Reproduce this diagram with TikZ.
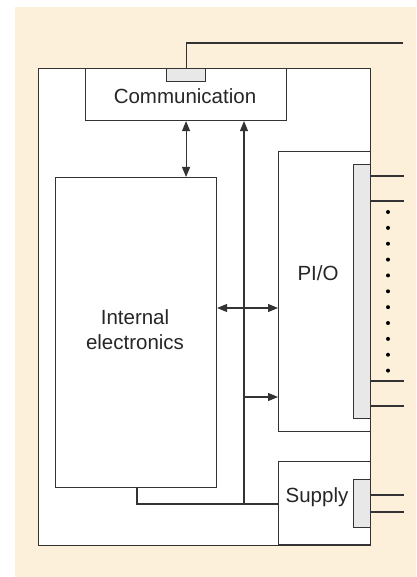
\documentclass[tikz,border=0pt]{standalone}
\usepackage{fontspec}
\setmainfont{Liberation Sans}
\usetikzlibrary{arrows.meta,positioning}

\definecolor{cream}{HTML}{FDF0DB}
\definecolor{tabgray}{HTML}{E8E8E8}
\definecolor{linegray}{HTML}{333333}

\begin{document}
\begin{tikzpicture}[
    x=1pt, y=-1pt,
    block/.style={
      draw=linegray,
      fill=white,
      line width=1.1pt,
      anchor=north west,
      inner sep=0pt
    },
    tab/.style={block, fill=tabgray},
    label/.style={font=\fontsize{20.5}{25}\selectfont, text=black!85, align=center, inner sep=0pt},
    wire/.style={draw=linegray, line width=1.1pt},
    arrow/.style={wire, -{Triangle[length=10pt,width=8pt]}},
    biarrow/.style={wire, {Triangle[length=10pt,width=8pt]}-{Triangle[length=10pt,width=8pt]}}
  ]
    \useasboundingbox (0,0) rectangle (416,577);
    \fill[cream] (15,7) rectangle (416,577);

    % housing and blocks
    \node[block, minimum width=332pt, minimum height=477pt] (device) at (38,68) {};
    \node[block, minimum width=201pt, minimum height=52pt] (comm) at (85,68) {};
    \node[label] (commlabel) at (185,96) {Communication};
    \node[tab, minimum width=39pt, minimum height=13pt] (commtab) at (166,68) {};
    \node[block, minimum width=161pt, minimum height=310pt] (ie) at (55,177) {};
    \node[label] (ielabel) at (135,330) {Internal\\electronics};
    \node[block, minimum width=92pt, minimum height=280pt] (pio) at (278,151) {};
    \node[label] (piolabel) at (318,273) {PI/O};
    \node[tab, minimum width=17pt, minimum height=254pt] (piostrip) at (353,164) {};
    \node[block, minimum width=92pt, minimum height=83pt] (supply) at (278,461) {};
    \node[label] (supplylabel) at (317,497) {Supply};
    \node[tab, minimum width=17pt, minimum height=48pt] (supplytab) at (353,479) {};

    % outside lines
    \coordinate (busout) at (403,43);
    \draw[wire] (commtab.north) |- (busout);
    \foreach \y in {176,201,381,406}
      \draw[wire] (piostrip.east |- 0,\y) -- ++(33,0);
    \foreach \y in {495,512}
      \draw[wire] (supplytab.east |- 0,\y) -- ++(33,0);
    \foreach \i in {0,...,10}
      \fill[black] (388,{212+15.86*\i}) circle (2pt);

    % internal connections
    \coordinate (busbottom) at (244,504);
    \draw[biarrow] (commtab.south |- comm.south) -- (commtab.south |- ie.north);
    \draw[arrow] (busbottom) -- (busbottom |- comm.south);
    \draw[wire] (ie.south -| 137,0) |- (supply.west |- busbottom);
    \draw[biarrow] (ie.east |- 0,308) -- (pio.west |- 0,308);
    \draw[arrow] (busbottom |- 0,397) -- (pio.west |- 0,397);
  \end{tikzpicture}
\end{document}
